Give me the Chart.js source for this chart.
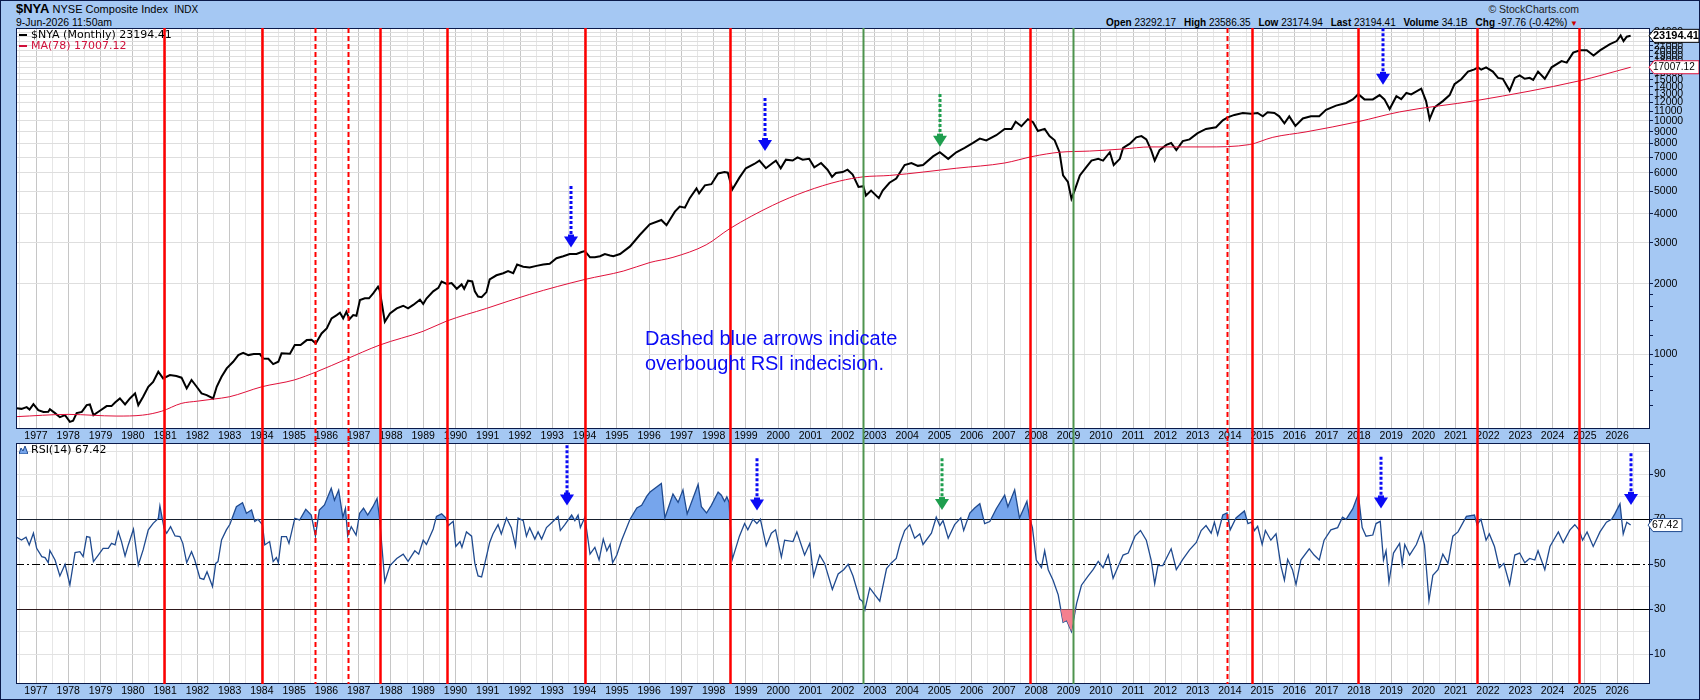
<!DOCTYPE html>
<html>
<head>
<meta charset="utf-8">
<title>$NYA NYSE Composite Index</title>
<script src="https://cdn.jsdelivr.net/npm/chart.js"></script>
<style>
  body { margin:0; width:1700px; height:700px; background:#a5c8f3; position:relative; overflow:hidden;
         font-family:'Liberation Sans', Arial, sans-serif; color:#000; }
  canvas { position:absolute; left:0; }
  .txt { position:absolute; white-space:nowrap; }
  .leg { position:absolute; white-space:nowrap; font:11px 'DejaVu Sans'; line-height:12px; }
  .dash { display:inline-block; width:8px; height:2px; vertical-align:middle; margin-right:4px; }
  .hd b { margin-left:5px; }
</style>
</head>
<body>

<div class="txt" style="left:16px;top:1px;font-size:11px;line-height:16px">
  <b style="font-size:13px">$NYA</b> NYSE Composite Index <span style="font-size:10px;margin-left:3px">INDX</span>
</div>
<div class="txt" style="left:16px;top:16px;font-size:10.5px;line-height:13px">9-Jun-2026 11:50am</div>
<div class="txt" style="right:121px;top:3px;font-size:10.5px;line-height:13px;color:#222">&copy; StockCharts.com</div>
<div class="txt hd" style="right:122px;top:16px;font-size:10px;line-height:13px">
  <b>Open</b> 23292.17 <b>High</b> 23586.35 <b>Low</b> 23174.94 <b>Last</b> 23194.41 <b>Volume</b> 34.1B <b>Chg</b> -97.76 (-0.42%) <span style="color:#c00;font-size:8px">&#9660;</span>
</div>

<canvas id="cPrice" width="1700" height="442" style="top:0"></canvas>
<canvas id="cRsi" width="1700" height="258" style="top:442px"></canvas>

<div class="leg" style="left:19px;top:29px"><span class="dash" style="background:#000"></span>$NYA (Monthly) 23194.41</div>
<div class="leg" style="left:19px;top:40px;color:#d0103a"><span class="dash" style="background:#d0103a"></span>MA(78) 17007.12</div>
<div class="leg" style="left:19px;top:444px">
  <svg width="9" height="9" style="vertical-align:-1px;margin-right:3px"><path d="M0 9 L2 3 L4 6 L6 1 L9 9 Z" fill="#76a5ec" stroke="#1f4a8f" stroke-width="1"/></svg>RSI(14) 67.42
</div>

<div class="txt" style="left:645px;top:326px;font-size:20px;line-height:25px;color:#0a0af5">
  Dashed blue arrows indicate<br>overbought RSI indecision.
</div>

<div style="position:absolute;left:0;top:0;width:1698px;height:698px;border:1px solid #0a1a4a;pointer-events:none"></div>

<script>
// =====================================================
// DATA (decimal year, value)
// =====================================================

const nyaPts = [
  [1976.40,585],[1976.55,582],[1976.71,592],[1976.80,578],[1976.92,610],[1977.07,575],[1977.23,564],[1977.38,566],
  [1977.43,580],[1977.59,558],[1977.74,536],[1977.90,547],[1978.05,512],[1978.15,518],[1978.26,558],[1978.42,565],
  [1978.57,604],[1978.67,608],[1978.78,547],[1978.98,571],[1979.19,598],[1979.34,598],[1979.45,620],[1979.60,645],
  [1979.76,608],[1979.91,645],[1980.07,678],[1980.17,604],[1980.32,656],[1980.48,724],[1980.63,760],[1980.79,840],
  [1980.94,786],[1981.15,813],[1981.35,805],[1981.51,792],[1981.67,712],[1981.82,774],[1981.98,724],[1982.13,678],
  [1982.29,667],[1982.49,645],[1982.60,724],[1982.75,799],[1982.91,868],[1983.11,927],[1983.27,990],[1983.42,1013],
  [1983.58,990],[1983.75,1000],[1983.94,1000],[1984.04,958],[1984.20,955],[1984.35,906],[1984.51,927],[1984.61,1007],
  [1984.87,1003],[1985.02,1093],[1985.20,1093],[1985.39,1148],[1985.54,1152],[1985.67,1111],[1985.85,1226],[1986.01,1289],
  [1986.16,1423],[1986.32,1470],[1986.42,1504],[1986.52,1423],[1986.62,1519],[1986.71,1409],[1986.83,1470],[1986.93,1460],
  [1987.04,1705],[1987.19,1734],[1987.32,1734],[1987.45,1820],[1987.60,1944],[1987.65,1881],[1987.81,1376],[1987.97,1494],
  [1988.18,1570],[1988.38,1612],[1988.53,1570],[1988.69,1625],[1988.90,1711],[1989.00,1640],[1989.10,1730],[1989.31,1858],
  [1989.47,1922],[1989.57,2048],[1989.73,2000],[1989.88,2018],[1990.04,1906],[1990.19,1990],[1990.27,1906],[1990.39,2064],
  [1990.52,2050],[1990.60,1858],[1990.70,1766],[1990.81,1755],[1990.96,1845],[1991.06,2090],[1991.27,2178],[1991.48,2223],
  [1991.63,2270],[1991.79,2223],[1991.91,2421],[1992.10,2371],[1992.30,2350],[1992.51,2390],[1992.72,2421],[1992.92,2442],
  [1993.13,2577],[1993.34,2630],[1993.54,2686],[1993.75,2686],[1993.91,2740],[1994.01,2765],[1994.17,2600],[1994.32,2600],
  [1994.48,2630],[1994.63,2686],[1994.79,2650],[1994.89,2630],[1995.10,2686],[1995.41,2897],[1995.71,3243],[1996.02,3604],
  [1996.38,3760],[1996.54,3571],[1996.80,4083],[1996.95,4295],[1997.11,4250],[1997.26,4666],[1997.47,5140],[1997.55,4888],
  [1997.73,5297],[1997.93,5355],[1998.14,5958],[1998.34,6040],[1998.44,6000],[1998.58,5083],[1998.80,5715],[1999.00,6270],
  [1999.26,6540],[1999.42,6763],[1999.62,6270],[1999.83,6604],[1999.93,6763],[2000.08,6270],[2000.24,6823],[2000.45,6763],
  [2000.60,6985],[2000.76,6823],[2000.96,6880],[2001.12,6330],[2001.33,6604],[2001.53,6180],[2001.67,5760],[2001.79,5985],
  [2002.00,6040],[2002.15,6180],[2002.31,5890],[2002.49,5213],[2002.64,5250],[2002.72,4790],[2002.88,5030],[2003.12,4666],
  [2003.24,5030],[2003.45,5434],[2003.66,5660],[2003.92,6474],[2004.13,6604],[2004.33,6420],[2004.49,6474],[2004.80,7050],
  [2005.01,7344],[2005.27,6880],[2005.52,7344],[2005.78,7660],[2006.04,8050],[2006.25,8400],[2006.45,8250],[2006.76,8690],
  [2007.02,9245],[2007.23,9245],[2007.36,9935],[2007.54,9500],[2007.74,10180],[2007.90,9880],[2008.05,9060],[2008.26,9250],
  [2008.41,8610],[2008.57,8260],[2008.72,7344],[2008.83,5840],[2008.98,5484],[2009.09,4637],[2009.19,5037],[2009.35,5840],
  [2009.55,6340],[2009.71,6763],[2009.92,6880],[2010.07,6763],[2010.28,7344],[2010.40,6474],[2010.59,6880],[2010.69,7660],
  [2010.90,7990],[2011.10,8510],[2011.26,8610],[2011.41,8340],[2011.56,7500],[2011.67,6760],[2011.82,7500],[2012.03,7900],
  [2012.18,8050],[2012.34,7500],[2012.54,8200],[2012.75,8340],[2013.00,8870],[2013.26,9245],[2013.57,9400],[2013.78,10070],
  [2013.93,10360],[2014.14,10620],[2014.40,10820],[2014.66,10750],[2014.86,10820],[2015.02,10470],[2015.17,10900],[2015.38,10820],
  [2015.53,10470],[2015.69,9780],[2015.84,10470],[2016.03,9530],[2016.26,10250],[2016.51,10470],[2016.77,10470],[2016.98,11160],
  [2017.29,11640],[2017.60,11950],[2017.81,12380],[2017.98,13030],[2018.17,12380],[2018.43,12380],[2018.64,12920],[2018.79,12380],
  [2018.95,11250],[2019.16,12770],[2019.31,12400],[2019.47,13190],[2019.62,13000],[2019.93,13770],[2020.08,12170],[2020.19,10190],
  [2020.34,11440],[2020.60,12170],[2020.81,12920],[2020.96,14380],[2021.17,15110],[2021.38,16290],[2021.58,16660],[2021.69,16990],
  [2021.79,16600],[2021.94,16990],[2022.15,16290],[2022.31,15310],[2022.46,15170],[2022.67,13500],[2022.83,15310],[2022.98,15700],
  [2023.14,15170],[2023.29,15310],[2023.40,15000],[2023.55,16290],[2023.76,15170],[2023.97,17000],[2024.28,18070],[2024.44,17800],
  [2024.64,19640],[2024.85,20110],[2025.06,20110],[2025.27,19100],[2025.47,20090],[2025.78,21380],[2025.99,22030],[2026.11,23270],
  [2026.20,22000],[2026.30,23000],[2026.42,23194.41]
]

const maPts = [
  [1976.40,539],[1978.00,551],[1979.50,542],[1980.30,547],[1980.90,569],[1981.50,614],[1982.00,628],[1982.50,641],
  [1983.00,656],[1984.00,724],[1985.00,774],[1985.70,840],[1986.60,949],[1987.65,1093],[1989.00,1253],[1989.73,1386],
  [1990.96,1570],[1992.30,1804],[1994.01,2090],[1995.20,2270],[1996.03,2472],[1996.74,2600],[1997.77,2943],[1998.50,3452],
  [1999.83,4346],[2000.86,4990],[2001.90,5523],[2002.64,5760],[2003.46,5840],[2005.52,6270],[2007.02,6604],[2007.90,7050],
  [2008.72,7344],[2009.65,7430],[2010.69,7585],[2011.52,7740],[2013.26,7740],[2014.60,7920],[2015.33,8510],[2016.36,8980],
  [2017.98,9935],[2019.26,10940],[2021.66,12250],[2024.82,14860],[2026.42,17007.12]
]

const rsiPts = [
  [1976.40,62.0],[1976.55,60.8],[1976.69,62.0],[1976.79,58.6],[1976.92,63.8],[1977.02,57.1],[1977.18,53.4],[1977.28,53.0],
  [1977.38,50.7],[1977.43,56.1],[1977.59,51.9],[1977.74,44.8],[1977.90,50.0],[1978.05,40.8],[1978.21,55.2],[1978.36,55.6],
  [1978.46,53.4],[1978.57,62.3],[1978.67,62.0],[1978.78,51.2],[1978.93,54.1],[1979.08,57.1],[1979.24,57.1],[1979.34,59.3],
  [1979.45,58.6],[1979.55,64.5],[1979.65,60.1],[1979.76,53.7],[1979.86,58.6],[1980.02,65.6],[1980.17,49.7],[1980.32,56.4],
  [1980.48,65.3],[1980.63,68.2],[1980.79,70.4],[1980.84,75.9],[1980.97,66.0],[1981.05,63.8],[1981.17,66.7],[1981.31,62.6],
  [1981.46,62.3],[1981.55,59.3],[1981.67,50.7],[1981.82,55.6],[1981.92,51.9],[1982.08,43.8],[1982.20,43.3],[1982.30,46.7],
  [1982.47,40.1],[1982.57,50.4],[1982.64,51.2],[1982.75,60.8],[1982.90,65.3],[1983.01,67.8],[1983.21,75.6],[1983.40,77.4],
  [1983.52,72.7],[1983.68,74.1],[1983.78,69.0],[1983.88,70.0],[1984.02,67.5],[1984.09,58.6],[1984.24,60.1],[1984.35,51.2],
  [1984.45,53.0],[1984.51,50.7],[1984.61,62.3],[1984.76,62.3],[1984.84,59.3],[1985.02,70.4],[1985.17,69.7],[1985.36,74.4],
  [1985.53,71.9],[1985.66,62.6],[1985.78,74.1],[1985.94,76.4],[1986.15,83.8],[1986.25,78.5],[1986.38,83.0],[1986.51,70.9],
  [1986.59,74.9],[1986.66,62.6],[1986.77,66.7],[1986.92,63.0],[1987.03,72.7],[1987.15,74.9],[1987.28,71.9],[1987.44,75.6],
  [1987.57,79.3],[1987.65,70.0],[1987.81,42.3],[1987.97,49.4],[1988.18,52.6],[1988.38,54.5],[1988.53,51.3],[1988.74,56.0],
  [1988.86,54.5],[1989.00,60.7],[1989.10,58.8],[1989.31,65.7],[1989.41,71.3],[1989.57,72.4],[1989.70,70.6],[1989.78,67.2],
  [1989.93,69.1],[1990.01,57.9],[1990.14,60.1],[1990.20,57.5],[1990.34,64.4],[1990.50,62.5],[1990.60,50.4],[1990.70,44.8],
  [1990.81,44.4],[1990.91,50.4],[1991.06,59.7],[1991.16,63.5],[1991.32,67.6],[1991.42,63.5],[1991.58,70.6],[1991.73,66.3],
  [1991.86,58.2],[1991.94,70.6],[1992.10,69.4],[1992.20,62.5],[1992.30,66.3],[1992.46,61.2],[1992.56,64.4],[1992.67,61.2],
  [1992.82,66.3],[1993.03,69.1],[1993.18,71.3],[1993.25,65.0],[1993.39,67.6],[1993.60,71.9],[1993.70,69.4],[1993.80,71.9],
  [1993.87,66.3],[1994.01,70.9],[1994.17,54.5],[1994.32,57.5],[1994.45,51.9],[1994.58,61.2],[1994.69,56.0],[1994.79,58.8],
  [1994.87,50.7],[1995.00,54.1],[1995.15,60.7],[1995.41,70.0],[1995.62,75.0],[1995.77,76.2],[1995.93,80.3],[1996.03,82.1],
  [1996.38,85.9],[1996.49,70.6],[1996.74,81.2],[1996.90,77.5],[1997.05,83.1],[1997.18,72.4],[1997.52,85.5],[1997.62,75.6],
  [1997.78,72.8],[1997.93,76.2],[1998.14,82.1],[1998.24,80.7],[1998.34,78.0],[1998.41,80.0],[1998.48,77.5],[1998.58,52.2],
  [1998.80,62.5],[1998.96,68.1],[1999.06,65.3],[1999.22,70.0],[1999.34,68.1],[1999.45,70.0],[1999.63,58.2],[1999.79,63.8],
  [1999.92,65.3],[2000.10,53.2],[2000.20,60.7],[2000.46,60.1],[2000.58,64.4],[2000.82,54.1],[2000.98,59.3],[2001.10,44.8],
  [2001.29,54.1],[2001.44,50.4],[2001.68,38.8],[2001.86,45.7],[2002.03,47.6],[2002.17,50.0],[2002.32,44.8],[2002.53,34.5],
  [2002.61,33.6],[2002.69,29.8],[2002.84,39.5],[2003.00,36.4],[2003.15,33.6],[2003.36,48.1],[2003.50,50.5],[2003.66,52.6],
  [2003.77,58.8],[2003.92,65.0],[2004.08,67.6],[2004.23,61.6],[2004.39,63.5],[2004.49,58.8],[2004.75,63.8],[2004.90,70.9],
  [2005.01,67.2],[2005.11,69.4],[2005.27,61.6],[2005.47,67.6],[2005.66,70.6],[2005.75,65.0],[2005.94,72.8],[2006.09,75.0],
  [2006.25,76.9],[2006.40,68.1],[2006.56,69.0],[2006.76,74.7],[2007.02,80.7],[2007.12,75.6],[2007.33,83.1],[2007.48,70.6],
  [2007.71,78.0],[2007.79,70.9],[2007.88,66.3],[2008.00,51.9],[2008.16,48.5],[2008.26,56.0],[2008.37,47.6],[2008.52,42.9],
  [2008.68,36.4],[2008.83,24.2],[2008.94,25.1],[2009.09,20.1],[2009.25,32.6],[2009.40,40.7],[2009.61,44.8],[2009.76,47.6],
  [2009.92,51.3],[2010.07,48.5],[2010.23,54.1],[2010.38,43.8],[2010.52,48.5],[2010.69,54.1],[2010.85,55.0],[2011.06,62.5],
  [2011.23,65.0],[2011.41,60.7],[2011.56,51.9],[2011.67,41.4],[2011.77,49.4],[2011.92,49.4],[2012.18,56.9],[2012.34,47.6],
  [2012.54,52.2],[2012.75,56.4],[2012.96,59.7],[2013.11,65.0],[2013.26,67.2],[2013.42,63.8],[2013.52,68.7],[2013.62,63.1],
  [2013.78,71.9],[2013.91,72.8],[2014.01,65.3],[2014.19,70.6],[2014.45,73.7],[2014.56,68.1],[2014.67,68.7],[2014.76,65.0],
  [2014.86,66.9],[2015.00,58.8],[2015.10,65.0],[2015.27,60.7],[2015.43,63.5],[2015.58,49.4],[2015.69,42.9],[2015.79,52.2],
  [2015.94,47.6],[2016.05,41.0],[2016.20,51.9],[2016.46,56.9],[2016.61,54.1],[2016.77,51.9],[2016.92,60.7],[2017.13,65.3],
  [2017.34,66.3],[2017.49,70.9],[2017.60,70.0],[2017.81,74.7],[2017.98,81.2],[2018.10,66.3],[2018.22,62.5],[2018.43,63.0],
  [2018.53,68.1],[2018.66,69.1],[2018.76,51.9],[2018.84,56.0],[2018.93,42.0],[2019.07,55.0],[2019.26,59.3],[2019.34,50.0],
  [2019.42,58.8],[2019.57,54.1],[2019.78,58.8],[2019.93,64.4],[2020.03,58.8],[2020.17,33.9],[2020.29,45.1],[2020.45,47.6],
  [2020.60,54.5],[2020.76,50.4],[2020.91,62.5],[2021.07,64.4],[2021.33,71.3],[2021.58,71.9],[2021.66,67.6],[2021.78,70.0],
  [2021.94,60.7],[2022.04,63.5],[2022.20,57.9],[2022.35,48.5],[2022.49,50.4],[2022.67,41.0],[2022.83,54.1],[2022.98,55.0],
  [2023.14,50.7],[2023.29,52.6],[2023.45,51.9],[2023.55,56.0],[2023.76,47.6],[2023.92,57.9],[2024.18,64.4],[2024.33,59.7],
  [2024.54,65.3],[2024.69,67.6],[2024.82,65.3],[2024.93,60.7],[2025.07,64.4],[2025.26,57.9],[2025.47,64.4],[2025.67,68.7],
  [2025.83,70.0],[2025.93,72.4],[2026.09,76.9],[2026.19,63.5],[2026.30,68.7],[2026.42,67.42]
]

// vertical markers (decimal year)
const redLines    = [1980.97, 1984.0, 1987.65, 1989.73, 1994.0, 1998.5, 2007.82, 2014.67, 2017.98, 2021.66, 2024.82]
const redDashed   = [1985.66, 1986.67, 2013.91]
const greenLines  = [2002.64, 2009.15]

// arrows: [year, top value, tip value, colour]
const BLUE  = '#0a0af5'
const GREEN = '#1e9e4e'
const priceArrows = [[1993.58, 5260, 2865, BLUE], [1999.59, 12560, 7430, BLUE], [2005.01, 13060, 7760, GREEN], [2018.74, 25000, 14290, BLUE]]
const rsiArrows   = [[1993.45, 102.9, 76.1, BLUE], [1999.35, 97.1, 73.9, BLUE], [2005.07, 97.1, 74.1, GREEN], [2018.68, 97.8, 74.8, BLUE], [2026.42, 99.3, 76.4, BLUE]]

const priceTicks = [1000,2000,3000,4000,5000,6000,7000,8000,9000,10000,11000,12000,13000,14000,15000,
                    16000,17000,18000,19000,20000,21000,22000,23000,24000]
const priceMinor = [600,700,800,900,1200,1400,1600,1800]
const rsiTicks   = [10,20,30,40,50,60,70,80,90,100]
const rsiLabels  = [10,30,50,70,90]

const X_MIN = 1976.38, X_MAX = 2027.02
const P_MIN = 477, P_MAX = 25060
const R_MIN = -3.2, R_MAX = 103.9

// =====================================================
// HELPERS
// =====================================================

const NAVY = '#0a1a4a'
const TICK_FONT = { family: 'Liberation Sans', size: 10.5 }

function yearTicks() {
  const t = []
  for (let v = 1976.5; v <= 2026.5; v += 0.5) t.push({ value: v })
  return t
}

function xScale() {
  return {
    type: 'linear', min: X_MIN, max: X_MAX, position: 'bottom',
    afterBuildTicks: s => { s.ticks = yearTicks() },
    border: { display: false },
    grid: {
      color: c => c.tick && Number.isInteger(c.tick.value) ? '#c6c6c6' : '#e6e6e6',
      drawTicks: false, tickLength: 0
    },
    ticks: {
      autoSkip: false, maxRotation: 0, padding: 1, color: '#000', font: TICK_FONT,
      callback: v => Number.isInteger(v) ? String(v) : ''
    }
  }
}

function vLines(ctx, chart, y0, y1) {
  const x = chart.scales.x
  ctx.save()
  const draw = (list, color, w, dash) => list.forEach(d => {
    const px = Math.round(x.getPixelForValue(d)) + 0.5
    ctx.strokeStyle = color; ctx.lineWidth = w; ctx.setLineDash(dash)
    ctx.beginPath(); ctx.moveTo(px, y0); ctx.lineTo(px, y1); ctx.stroke()
  })
  draw(redLines, '#ff0000', 2.5, [])
  draw(redDashed, '#ff0000', 2, [5, 3])
  draw(greenLines, '#4e944e', 2, [])
  ctx.restore()
}

function arrow(ctx, x, yTop, yTip, color) {
  const hh = 11, hw = 7
  ctx.save()
  ctx.strokeStyle = color; ctx.fillStyle = color; ctx.lineWidth = 3
  ctx.setLineDash([3, 2])
  ctx.beginPath(); ctx.moveTo(x, yTop); ctx.lineTo(x, yTip - hh + 1); ctx.stroke()
  ctx.setLineDash([])
  ctx.fillRect(x - 3, yTip - hh - 2, 6, 3)
  ctx.beginPath(); ctx.moveTo(x - hw, yTip - hh); ctx.lineTo(x + hw, yTip - hh); ctx.lineTo(x, yTip); ctx.closePath(); ctx.fill()
  ctx.restore()
}

function tag(ctx, x, y, w, text, stroke, font) {
  const h = 13
  ctx.save()
  ctx.beginPath()
  ctx.moveTo(x, y)
  ctx.lineTo(x + 5, y - h / 2)
  ctx.lineTo(x + w, y - h / 2)
  ctx.lineTo(x + w, y + h / 2)
  ctx.lineTo(x + 5, y + h / 2)
  ctx.closePath()
  ctx.fillStyle = '#fff'; ctx.fill()
  ctx.strokeStyle = stroke; ctx.lineWidth = 1; ctx.stroke()
  ctx.fillStyle = '#000'; ctx.font = font
  ctx.textBaseline = 'middle'; ctx.textAlign = 'left'
  ctx.fillText(text, x + 4, y + 0.5)
  ctx.restore()
}

function frame(ctx, a) {
  ctx.save()
  ctx.strokeStyle = NAVY; ctx.lineWidth = 1
  ctx.strokeRect(a.left + 0.5, a.top + 0.5, a.width - 1, a.height - 1)
  ctx.restore()
}

const whiteArea = {
  id: 'whiteArea',
  beforeDraw(chart) {
    const { ctx, chartArea: a } = chart
    ctx.save(); ctx.fillStyle = '#fff'; ctx.fillRect(a.left, a.top, a.width, a.height); ctx.restore()
  }
}

// =====================================================
// PRICE PANEL
// =====================================================

const pricePlugin = {
  id: 'priceOverlay',
  afterDraw(chart) {
    const { ctx, chartArea: a, scales } = chart
    frame(ctx, a)
    vLines(ctx, chart, a.top, chart.height)
    priceArrows.forEach(([d, top, tip, col]) =>
      arrow(ctx, Math.round(scales.x.getPixelForValue(d)), scales.y.getPixelForValue(top), scales.y.getPixelForValue(tip), col))
    const last = nyaPts[nyaPts.length - 1][1]
    const lastMa = maPts[maPts.length - 1][1]
    tag(ctx, a.right - 1, scales.y.getPixelForValue(lastMa), 50, lastMa.toFixed(2), '#e0103a', '10px Liberation Sans')
    tag(ctx, a.right - 1, scales.y.getPixelForValue(last), 50, last.toFixed(2), '#000', 'bold 11px Liberation Sans')
  }
}

new Chart(document.getElementById('cPrice'), {
  type: 'line',
  data: {
    datasets: [
      {
        label: 'MA(78)', data: maPts.map(([x, y]) => ({ x, y })),
        borderColor: '#e0103a', borderWidth: 1, pointRadius: 0, cubicInterpolationMode: 'monotone'
      },
      {
        label: '$NYA', data: nyaPts.map(([x, y]) => ({ x, y })),
        borderColor: '#000', borderWidth: 2, pointRadius: 0, tension: 0
      }
    ]
  },
  options: {
    responsive: false, animation: false, devicePixelRatio: 1,
    layout: { padding: { left: 16, top: 28, right: 0, bottom: 0 } },
    plugins: { legend: { display: false }, tooltip: { enabled: false } },
    scales: {
      x: { ...xScale(), afterFit: s => { s.height = 13; s.paddingLeft = 0; s.paddingRight = 0 } },
      y: {
        type: 'logarithmic', position: 'right', min: P_MIN, max: P_MAX,
        afterBuildTicks: s => { s.ticks = [...priceMinor, ...priceTicks].sort((a, b) => a - b).map(v => ({ value: v })) },
        afterFit: s => { s.width = 50; s.paddingTop = 0; s.paddingBottom = 0 },
        border: { display: false },
        grid: {
          color: c => c.tick && priceTicks.includes(c.tick.value) ? '#dedede' : 'rgba(0,0,0,0)',
          tickColor: NAVY, tickLength: 3
        },
        ticks: {
          autoSkip: false, padding: 1, color: '#000', font: TICK_FONT,
          callback: v => priceTicks.includes(v) ? String(v) : ''
        }
      }
    }
  },
  plugins: [whiteArea, pricePlugin]
})

// =====================================================
// RSI PANEL
// =====================================================

const rsiPlugin = {
  id: 'rsiOverlay',
  beforeDatasetsDraw(chart) {
    const { ctx, chartArea: a, scales } = chart
    ctx.save()
    ctx.strokeStyle = '#000'; ctx.lineWidth = 1
    ;[70, 30].forEach(v => {
      const y = Math.round(scales.y.getPixelForValue(v)) + 0.5
      ctx.beginPath(); ctx.moveTo(a.left, y); ctx.lineTo(a.right, y); ctx.stroke()
    })
    const y50 = Math.round(scales.y.getPixelForValue(50)) + 0.5
    ctx.setLineDash([8, 3, 2, 3])
    ctx.beginPath(); ctx.moveTo(a.left, y50); ctx.lineTo(a.right, y50); ctx.stroke()
    ctx.restore()
  },
  afterDraw(chart) {
    const { ctx, chartArea: a, scales } = chart
    frame(ctx, a)
    vLines(ctx, chart, 0, a.bottom)
    rsiArrows.forEach(([d, top, tip, col]) =>
      arrow(ctx, Math.round(scales.x.getPixelForValue(d)), scales.y.getPixelForValue(top), scales.y.getPixelForValue(tip), col))
    const last = rsiPts[rsiPts.length - 1][1]
    tag(ctx, a.right - 2, scales.y.getPixelForValue(last), 34, last.toFixed(2), '#1f4a8f', '10.5px Liberation Sans')
  }
}

const rsiData = rsiPts.map(([x, y]) => ({ x, y }))

new Chart(document.getElementById('cRsi'), {
  type: 'line',
  data: {
    datasets: [
      {
        label: 'oversold', data: rsiData, borderWidth: 0, pointRadius: 0,
        fill: { value: 30, above: 'rgba(0,0,0,0)', below: '#f4808f' }
      },
      {
        label: 'RSI(14)', data: rsiData, borderColor: '#1f4a8f', borderWidth: 1.3, pointRadius: 0,
        fill: { value: 70, above: '#76a5ec', below: 'rgba(0,0,0,0)' }
      }
    ]
  },
  options: {
    responsive: false, animation: false, devicePixelRatio: 1,
    layout: { padding: { left: 16, top: 1, right: 0, bottom: 0 } },
    plugins: { legend: { display: false }, tooltip: { enabled: false } },
    scales: {
      x: { ...xScale(), afterFit: s => { s.height = 16; s.paddingLeft = 0; s.paddingRight = 0 } },
      y: {
        type: 'linear', position: 'right', min: R_MIN, max: R_MAX,
        afterBuildTicks: s => { s.ticks = rsiTicks.map(v => ({ value: v })) },
        afterFit: s => { s.width = 50; s.paddingTop = 0; s.paddingBottom = 0 },
        border: { display: false },
        grid: {
          color: c => c.tick && [30, 50, 70].includes(c.tick.value) ? 'rgba(0,0,0,0)' : '#e2e2e2',
          tickColor: c => c.tick && rsiLabels.includes(c.tick.value) ? NAVY : 'rgba(0,0,0,0)',
          tickLength: 3
        },
        ticks: {
          autoSkip: false, padding: 1, color: '#000', font: TICK_FONT,
          callback: v => rsiLabels.includes(v) ? String(v) : ''
        }
      }
    }
  },
  plugins: [whiteArea, rsiPlugin]
})
</script>
</body>
</html>
